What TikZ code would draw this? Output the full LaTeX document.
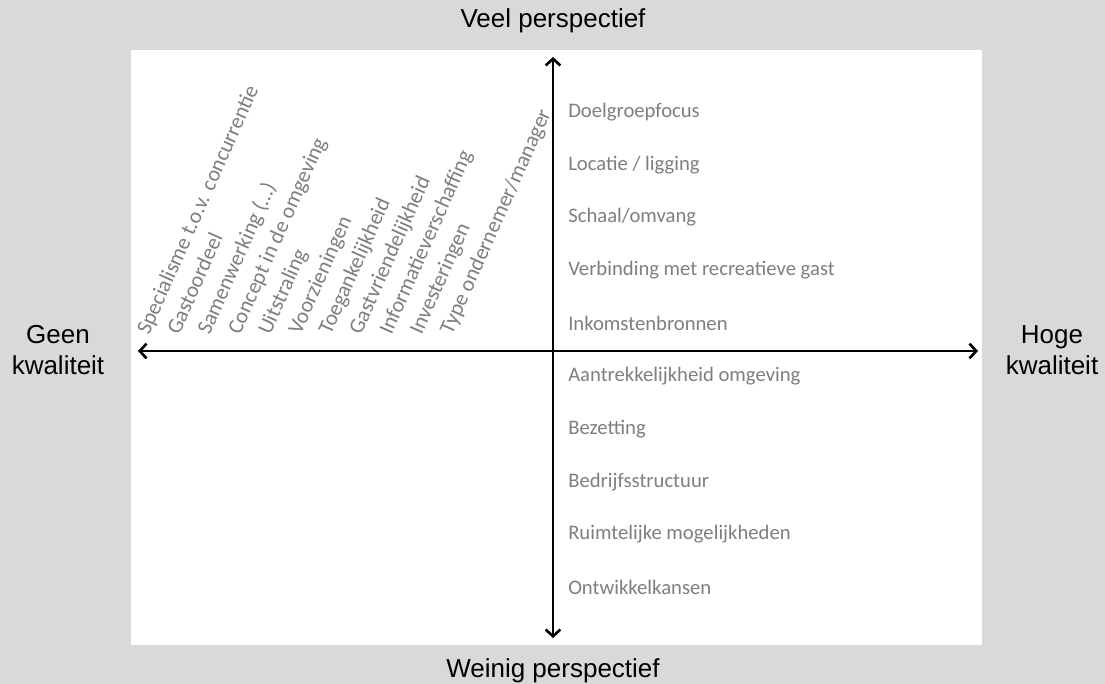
\documentclass[tikz,border=0pt]{standalone}
\usepackage{fontspec}
\setmainfont{Liberation Sans}
\newfontfamily\calib{Carlito}
\usetikzlibrary{arrows.meta,positioning}

\definecolor{backgray}{HTML}{D9D9D9}
\definecolor{itemgray}{HTML}{7F7F7F}

\tikzset{
  axis/.style={line width=2pt,{Straight Barb[length=5pt,width=11pt]}-{Straight Barb[length=5pt,width=11pt]}},
  title/.style={font=\fontsize{19.5}{23.25}\selectfont,align=center,inner sep=0pt},
  item/.style={font=\calib\fontsize{15.5}{18}\selectfont,text=itemgray,inner sep=0pt,anchor=west},
  tilted/.style={item,font=\calib\fontsize{16.3}{19}\selectfont,rotate=66,anchor=base west}
}

\begin{document}
\begin{tikzpicture}[x=0.75pt,y=-0.75pt,node distance=39.6pt]
    \fill[backgray] (0,0) rectangle (1105,684);
    \fill[white] (131,50) rectangle (982,645);
    \useasboundingbox (0,0) rectangle (1105,684);

    % axes
    \coordinate(top) at (553,57);
    \coordinate(bottom) at (553,638);
    \coordinate(left) at (138,351);
    \coordinate(right) at (978,351);
    \draw[axis] (bottom) -- (top);
    \draw[axis] (left) -- (right);

    \node(veel)[title,anchor=base] at (553,28) {Veel perspectief};
    \node(weinig)[title,anchor=base] at (553,677) {Weinig perspectief};
    \node(geen)[title,anchor=base] at (58,374) {Geen\\kwaliteit};
    \node(hoge)[title,anchor=base] at (1052,374) {Hoge\\kwaliteit};

    % factors along the vertical axis
    \node(doel)[item] at (568,112) {Doelgroepfocus};
    \node(locatie)[item, below=of doel.west, anchor=west] {Locatie / ligging};
    \node(schaal)[item, below=of locatie.west, anchor=west] {Schaal/omvang};
    \node(verbinding)[item, below=of schaal.west, anchor=west] {Verbinding met recreatieve gast};
    \node(inkomsten)[item, below=of verbinding.west, anchor=west] {Inkomstenbronnen};
    \node(aantrek)[item, below=of inkomsten.west, anchor=west] {Aantrekkelijkheid omgeving};
    \node(bezetting)[item, below=of aantrek.west, anchor=west] {Bezetting};
    \node(structuur)[item, below=of bezetting.west, anchor=west] {Bedrijfsstructuur};
    \node(ruimte)[item, below=of structuur.west, anchor=west] {Ruimtelijke mogelijkheden};
    \node(kansen)[item, below=of ruimte.west, anchor=west] {Ontwikkelkansen};

    % factors along the horizontal axis
    \node(special)[tilted] at (149,336) {Specialisme t.o.v. concurrentie};
    \node(oordeel)[tilted] at (179.3,336) {Gastoordeel};
    \node(samen)[tilted] at (209.6,336) {Samenwerking (\dots)};
    \node(concept)[tilted] at (239.9,336) {Concept in de omgeving};
    \node(uitstraling)[tilted] at (270.2,336) {Uitstraling};
    \node(voorz)[tilted] at (300.5,336) {Voorzieningen};
    \node(toegang)[tilted] at (330.8,336) {Toegankelijkheid};
    \node(gastvr)[tilted] at (361.1,336) {Gastvriendelijkheid};
    \node(info)[tilted] at (391.4,336) {Informatieverschaffing};
    \node(invest)[tilted] at (421.7,336) {Investeringen};
    \node(type)[tilted] at (452,336) {Type ondernemer/manager};
  \end{tikzpicture}
\end{document}
